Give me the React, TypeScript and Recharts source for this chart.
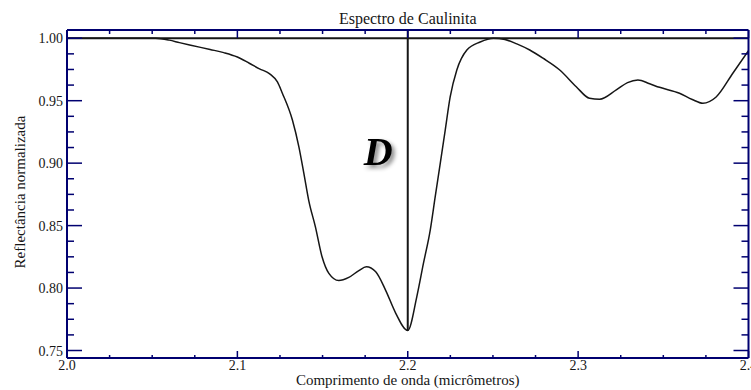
import React from 'react';
import { LineChart, Line, XAxis, YAxis, ReferenceLine, ReferenceDot, Label } from 'recharts';

// ---- data ----
const wavelengths = [
  2.0, 2.02, 2.04, 2.052, 2.06, 2.066, 2.072, 2.084, 2.092, 2.1, 2.107, 2.113, 2.119, 2.1235,
  2.1264, 2.1323, 2.1361, 2.139, 2.1419, 2.1458, 2.1497, 2.1537, 2.1595, 2.1654, 2.1713,
  2.1757, 2.1812, 2.1871, 2.1929, 2.2, 2.2053, 2.2092, 2.2132, 2.2161, 2.2191, 2.222,
  2.2249, 2.2288, 2.2347, 2.2425, 2.2503, 2.257, 2.264, 2.2716, 2.2794, 2.2892, 2.2989,
  2.3067, 2.3126, 2.3224, 2.329, 2.3351, 2.342, 2.3478, 2.3595, 2.367, 2.3732, 2.381,
  2.3908, 2.4,
];
const reflectance = [
  1.0, 1.0, 1.0, 1.0, 0.9985, 0.9965, 0.9946, 0.991, 0.9885, 0.985, 0.98, 0.9755, 0.9715, 0.965,
  0.956, 0.9345, 0.913, 0.892, 0.87, 0.849, 0.825, 0.8117, 0.806, 0.8085, 0.814,
  0.817, 0.813, 0.798, 0.78, 0.766, 0.793, 0.8197, 0.8464, 0.873, 0.9, 0.9265,
  0.953, 0.9746, 0.9906, 0.997, 1.0, 0.999, 0.9955, 0.9906, 0.984, 0.9746, 0.9612,
  0.9519, 0.9511, 0.9586, 0.9645, 0.9666, 0.9635, 0.9607, 0.956, 0.951, 0.948, 0.953,
  0.972, 0.99,
];

const xTicks = [
  2.0, 2.025, 2.05, 2.075, 2.1, 2.125, 2.15, 2.175, 2.2, 2.225, 2.25, 2.275, 2.3,
  2.325, 2.35, 2.375, 2.4,
];
const xMajorTicks = [2.0, 2.1, 2.2, 2.3, 2.4];
const yTicks = [
  0.75, 0.7625, 0.775, 0.7875, 0.8, 0.8125, 0.825, 0.8375, 0.85, 0.8625, 0.875, 0.8875,
  0.9, 0.9125, 0.925, 0.9375, 0.95, 0.9625, 0.975, 0.9875, 1.0,
];
const yMajorTicks = [0.75, 0.8, 0.85, 0.9, 0.95, 1.0];

const xDomain = [2.0, 2.4];
const yDomain = [0.744, 1.0066];

const title = 'Espectro de Caulinita';
const xLabel = 'Comprimento de onda (micrômetros)';
const yLabel = 'Reflectância normalizada';
const bandLabel = 'D';
const bandCenter = 2.2;
const bandLabelPos = { x: 2.1742, y: 0.8985 };
const continuumLevel = 1.0;

const data = wavelengths.map((w, i) => ({ w, r: reflectance[i] }));
const bandDepthValue = reflectance[wavelengths.indexOf(bandCenter)];

// ---- styling ----
const FONT = 'Liberation Serif, Times New Roman, serif';
const INK = '#161616';
const FRAME = '#000070';
const X_TICK_MARGIN = 2;
const Y_TICK_MARGIN = 3;

const near = (list: number[], v: number) => list.some((m) => Math.abs(m - v) < 1e-6);

const BottomTick = (props: any) => {
  const x = Number(props.x);
  const y = Number(props.y);
  const v = Number(props.payload.value);
  const major = near(xMajorTicks, v);
  const axisY = y - X_TICK_MARGIN;
  return (
    <g>
      <path d={`M${x},${axisY}V${axisY - (major ? 7 : 3)}`} stroke={FRAME} strokeWidth={1.5} fill="none" />
      {major && (
        <text x={x} y={axisY + 12} textAnchor="middle" style={{ fontFamily: FONT, fontSize: 14 }} fill={INK}>
          {v.toFixed(1)}
        </text>
      )}
    </g>
  );
};

const TopTick = (props: any) => {
  const x = Number(props.x);
  const y = Number(props.y);
  const major = near(xMajorTicks, Number(props.payload.value));
  return <path d={`M${x},${y}V${y + (major ? 8 : 4)}`} stroke={FRAME} strokeWidth={1.5} fill="none" />;
};

const LeftTick = (props: any) => {
  const x = Number(props.x);
  const y = Number(props.y);
  const v = Number(props.payload.value);
  const major = near(yMajorTicks, v);
  const axisX = x + Y_TICK_MARGIN;
  return (
    <g>
      <path d={`M${axisX},${y}H${axisX + (major ? 15 : 7)}`} stroke={FRAME} strokeWidth={1.5} fill="none" />
      {major && (
        <text x={axisX - 4} y={y + 5} textAnchor="end" style={{ fontFamily: FONT, fontSize: 14 }} fill={INK}>
          {v.toFixed(2)}
        </text>
      )}
    </g>
  );
};

const RightTick = (props: any) => {
  const x = Number(props.x);
  const y = Number(props.y);
  const major = near(yMajorTicks, Number(props.payload.value));
  return <path d={`M${x},${y}H${x - (major ? 15 : 7)}`} stroke={FRAME} strokeWidth={1.5} fill="none" />;
};

const TitleLabel = (props: any) => {
  const vb = props.viewBox;
  return (
    <text x={vb.x + vb.width / 2} y={vb.y - 5} textAnchor="middle" style={{ fontFamily: FONT, fontSize: 16 }} fill={INK}>
      {title}
    </text>
  );
};

const XTitle = (props: any) => {
  const vb = props.viewBox;
  return (
    <text x={vb.x + vb.width / 2} y={vb.y + 27} textAnchor="middle" style={{ fontFamily: FONT, fontSize: 15 }} fill={INK}>
      {xLabel}
    </text>
  );
};

const YTitle = (props: any) => {
  const vb = props.viewBox;
  const cx = vb.x + 25;
  const cy = vb.y + vb.height / 2 - 2;
  return (
    <text x={cx} y={cy} textAnchor="middle" transform={`rotate(-90 ${cx} ${cy})`} style={{ fontFamily: FONT, fontSize: 15 }} fill={INK}>
      {yLabel}
    </text>
  );
};

const BandLabel = (props: any) => {
  const vb = props.viewBox;
  return (
    <text
      x={vb.x}
      y={vb.y}
      textAnchor="start"
      fill="#000"
      style={{ fontFamily: FONT, fontSize: 40, fontWeight: 'bold', fontStyle: 'italic', filter: 'drop-shadow(3px 3px 2px rgba(0,0,0,0.45))' }}
    >
      {bandLabel}
    </text>
  );
};

export default function App() {
  return (
    <div style={{ position: 'absolute', left: 0, top: 0, width: 751, height: 390, overflow: 'hidden', background: '#fff', fontFamily: FONT }}>
      <LineChart width={751} height={390} data={data} margin={{ top: 29, right: 1.5, bottom: 0, left: 0 }}>
        <XAxis xAxisId="b" dataKey="w" type="number" orientation="bottom" domain={xDomain} allowDataOverflow ticks={xTicks} interval={0}
          height={32} tickSize={0} tickMargin={X_TICK_MARGIN} tickLine={false} axisLine={{ stroke: FRAME, strokeWidth: 2 }} tick={BottomTick}>
          <Label content={XTitle} />
        </XAxis>
        <XAxis xAxisId="t" dataKey="w" type="number" orientation="top" domain={xDomain} allowDataOverflow ticks={xTicks} interval={0}
          height={1} tickSize={0} tickMargin={0} tickLine={false} axisLine={{ stroke: FRAME, strokeWidth: 2 }} tick={TopTick}>
          <Label content={TitleLabel} />
        </XAxis>
        <YAxis yAxisId="l" type="number" orientation="left" domain={yDomain} allowDataOverflow ticks={yTicks} interval={0}
          width={67} tickSize={0} tickMargin={Y_TICK_MARGIN} tickLine={false} axisLine={{ stroke: FRAME, strokeWidth: 2 }} tick={LeftTick}>
          <Label content={YTitle} />
        </YAxis>
        <YAxis yAxisId="r" type="number" orientation="right" domain={yDomain} allowDataOverflow ticks={yTicks} interval={0}
          width={1} tickSize={0} tickMargin={0} tickLine={false} axisLine={{ stroke: FRAME, strokeWidth: 2 }} tick={RightTick} />
        <ReferenceLine xAxisId="b" yAxisId="l" y={continuumLevel} stroke={INK} strokeWidth={2} />
        <ReferenceLine xAxisId="b" yAxisId="l" segment={[{ x: bandCenter, y: yDomain[1] }, { x: bandCenter, y: bandDepthValue }]} stroke={INK} strokeWidth={2} />
        <Line xAxisId="b" yAxisId="l" dataKey="r" type="monotone" dot={false} stroke={INK} strokeWidth={1.5} isAnimationActive={false} />
        <Line xAxisId="t" yAxisId="r" dataKey="r" type="monotone" dot={false} stroke="none" strokeWidth={0} isAnimationActive={false} />
        <ReferenceDot xAxisId="b" yAxisId="l" x={bandLabelPos.x} y={bandLabelPos.y} r={0} fill="none" stroke="none" label={<Label content={BandLabel} />} />
      </LineChart>
    </div>
  );
}
